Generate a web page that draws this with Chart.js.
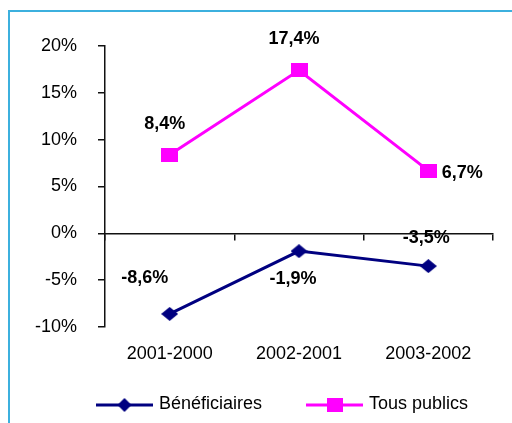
<!DOCTYPE html>
<html>
<head>
<meta charset="utf-8">
<script src="https://cdn.jsdelivr.net/npm/chart.js@4/dist/chart.umd.min.js"></script>
<style>
  html, body { margin: 0; padding: 0; background: #fff; }
  #wrap { position: relative; width: 512px; height: 423px; overflow: hidden; }
  #cadre { position: absolute; left: 8px; top: 10px; width: 600px; height: 500px;
           border-top: 2px solid #3cb0de; border-left: 2px solid #3cb0de; pointer-events: none; }
  canvas { display: block; }
</style>
</head>
<body>
<div id="wrap">
  <canvas id="graphique" width="512" height="423"></canvas>
  <div id="cadre"></div>
</div>
<script>
// Données
const periodes = ["2001-2000", "2002-2001", "2003-2002"];
const beneficiaires = [-8.6, -1.9, -3.5];
const tousPublics = [8.4, 17.4, 6.7];
const graduations = [-10, -5, 0, 5, 10, 15, 20];

const BLEU = "#000080";
const ROSE = "#ff00ff";

Chart.defaults.font.family = '"Liberation Sans", Arial, sans-serif';
Chart.defaults.color = "#000";

// petits dessins pour les marqueurs
function marqueur(forme, couleur, w, h) {
    const c = document.createElement("canvas");
    c.width = w; c.height = h;
    const g = c.getContext("2d");
    g.fillStyle = couleur;
    if (forme === "carre") {
        g.fillRect(0, 0, w, h);
    } else {
        g.beginPath();
        g.moveTo(w / 2, 0); g.lineTo(w, h / 2); g.lineTo(w / 2, h); g.lineTo(0, h / 2);
        g.closePath(); g.fill();
    }
    return c;
}

// symbole de légende : trait + marqueur, calé à droite de l'image
function symboleLegende(forme, couleur) {
    const W = 104, H = 20, L = 57;
    const c = document.createElement("canvas");
    c.width = W; c.height = H;
    const g = c.getContext("2d");
    g.strokeStyle = couleur; g.lineWidth = 3;
    g.beginPath(); g.moveTo(W - L, 11); g.lineTo(W, 11); g.stroke();
    g.drawImage(marqueur(forme, couleur, forme === "carre" ? 16 : 14, 14), W - L / 2 - (forme === "carre" ? 8 : 7), 4);
    return c;
}

const symboles = [symboleLegende("losange", BLEU), symboleLegende("carre", ROSE)];

// décalage des étiquettes par rapport au point [dx, dy]
const decalages = [
    [[-25, -36], [-6, 28], [-2, -28]],
    [[-5, -31], [-5, -31], [34, 2]]
];

const etiquettes = {
    id: "etiquettes",
    afterDatasetsDraw(chart) {
        const ctx = chart.ctx;
        ctx.save();
        ctx.font = 'bold 18px "Liberation Sans", Arial, sans-serif';
        ctx.fillStyle = "#000";
        ctx.textAlign = "center";
        ctx.textBaseline = "middle";
        chart.data.datasets.forEach((ds, i) => {
            chart.getDatasetMeta(i).data.forEach((pt, j) => {
                const [dx, dy] = decalages[i][j];
                ctx.fillText(ds.data[j].toFixed(1).replace(".", ",") + "%", pt.x + dx, pt.y + dy);
            });
        });
        ctx.restore();
    }
};

new Chart(document.getElementById("graphique"), {
    type: "line",
    data: {
        labels: periodes,
        datasets: [
            {
                label: "Bénéficiaires", data: beneficiaires,
                borderColor: BLEU, backgroundColor: BLEU, borderWidth: 3, tension: 0,
                pointStyle: marqueur("losange", BLEU, 17, 14), pointRadius: 8
            },
            {
                label: "Tous publics", data: tousPublics,
                borderColor: ROSE, backgroundColor: ROSE, borderWidth: 3, tension: 0,
                pointStyle: marqueur("carre", ROSE, 17, 14), pointRadius: 8
            }
        ]
    },
    options: {
        responsive: false,
        animation: false,
        layout: { padding: { top: 46, left: 27, right: 19, bottom: 0 } },
        plugins: {
            tooltip: { enabled: false },
            legend: {
                position: "bottom",
                labels: {
                    usePointStyle: true,
                    pointStyleWidth: 98,
                    padding: 0,
                    color: "#000",
                    font: { size: 18 },
                    generateLabels(chart) {
                        const items = Chart.defaults.plugins.legend.labels.generateLabels(chart);
                        items.forEach((it, i) => { it.pointStyle = symboles[i]; });
                        return items;
                    }
                }
            }
        },
        scales: {
            x: {
                type: "category",
                position: { y: 0 },
                offset: true,
                grid: { offset: true, drawOnChartArea: false, tickLength: 6, color: "#111", lineWidth: 1.5 },
                border: { color: "#111", width: 1.5 },
                ticks: { display: false }
            },
            x2: {
                type: "category",
                labels: periodes,
                position: "bottom",
                offset: true,
                grid: { display: false, drawTicks: false },
                border: { display: false },
                ticks: { color: "#000", font: { size: 18 }, padding: 16 },
                afterFit(s) { s.height = 68; }
            },
            y: {
                min: -10, max: 20,
                afterBuildTicks(s) { s.ticks = graduations.map(v => ({ value: v })); },
                ticks: { color: "#000", font: { size: 18 }, padding: 21, callback: v => v + "%" },
                grid: { drawOnChartArea: false, tickLength: 7, color: "#111", lineWidth: 1.5 },
                border: { color: "#111", width: 1.5 },
                afterFit(s) { s.width = 78; }
            }
        }
    },
    plugins: [etiquettes]
});
</script>
</body>
</html>
